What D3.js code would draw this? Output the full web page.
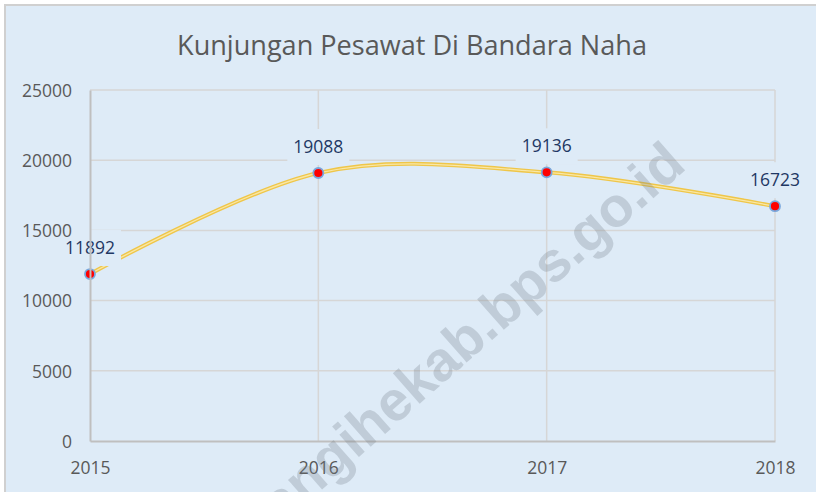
<!DOCTYPE html>
<html>
<head>
<meta charset="utf-8">
<script src="https://cdn.jsdelivr.net/npm/d3@7"></script>
<style>
  html, body { margin: 0; padding: 0; background: #ffffff; }
  svg { display: block; }
</style>
</head>
<body>
<svg id="chart"></svg>
<script>
// chart data
var years = ["2015", "2016", "2017", "2018"];
var flights = [11892, 19088, 19136, 16723];
var yTicks = [0, 5000, 10000, 15000, 20000, 25000];
var title = "Kunjungan Pesawat Di Bandara Naha";
var watermark = "sangihekab.bps.go.id";

var width = 816,
    height = 492,
    bg = "#deebf7",
    font = "'Open Sans', 'Noto Sans', sans-serif";

var svg = d3.select("#chart")
    .attr("width", width)
    .attr("height", height);

// chart area with grey frame on top and left
svg.append("rect")
    .attr("x", 5).attr("y", 5)
    .attr("width", width).attr("height", height)
    .attr("fill", bg)
    .attr("stroke", "#d0d0d0")
    .attr("stroke-width", 2);

var x = d3.scalePoint()
    .domain(years)
    .range([90, 775]);

var y = d3.scaleLinear()
    .domain([0, 25000])
    .range([441, 90]);

// title, scaled to the width it has in the picture
var t = svg.append("text")
    .attr("x", 412)
    .attr("y", 55)
    .attr("text-anchor", "middle")
    .attr("font-family", font)
    .attr("font-size", 26)
    .attr("fill", "#595959")
    .text(title);
var tw = t.node().getComputedTextLength();
t.attr("font-size", 26 * 470 / tw);

// gridlines
svg.append("g")
    .selectAll("line")
    .data(yTicks.slice(1))
    .enter().append("line")
    .attr("x1", x.range()[0]).attr("x2", x.range()[1])
    .attr("y1", function(d) { return y(d); })
    .attr("y2", function(d) { return y(d); })
    .attr("stroke", "#d6d6d6")
    .attr("stroke-width", 1.5);

svg.append("g")
    .selectAll("line")
    .data(years.slice(1))
    .enter().append("line")
    .attr("x1", function(d) { return x(d); })
    .attr("x2", function(d) { return x(d); })
    .attr("y1", y(25000)).attr("y2", y(0))
    .attr("stroke", "#d6d6d6")
    .attr("stroke-width", 1.5);

// axis lines
var yAxis = svg.append("g")
    .attr("transform", "translate(" + x.range()[0] + ",0)")
    .call(d3.axisLeft(y).tickValues(yTicks).tickFormat(d3.format("d")).tickSize(0).tickPadding(18));

var xAxis = svg.append("g")
    .attr("transform", "translate(0," + y(0) + ")")
    .call(d3.axisBottom(x).tickSize(0).tickPadding(21));

// smoothed line
var line = d3.line()
    .x(function(d, i) { return x(years[i]); })
    .y(function(d) { return y(d); })
    .curve(d3.curveCatmullRom.alpha(0));

svg.append("path")
    .datum(flights)
    .attr("d", line)
    .attr("fill", "none")
    .attr("stroke", "#efc649")
    .attr("stroke-width", 4);

svg.append("path")
    .datum(flights)
    .attr("d", line)
    .attr("fill", "none")
    .attr("stroke", "#f9e7a6")
    .attr("stroke-width", 1.3);

// markers
svg.append("g")
    .selectAll("circle")
    .data(flights)
    .enter().append("circle")
    .attr("cx", function(d, i) { return x(years[i]); })
    .attr("cy", function(d) { return y(d); })
    .attr("r", 5)
    .attr("fill", "#ff0000")
    .attr("stroke", "#79a7dc")
    .attr("stroke-width", 1.8);

// data labels with a background box
var labels = svg.append("g")
    .selectAll("g")
    .data(flights)
    .enter().append("g");

labels.append("rect");
labels.append("text")
    .attr("x", function(d, i) { return x(years[i]); })
    .attr("y", function(d) { return y(d) - 20; })
    .attr("text-anchor", "middle")
    .attr("font-family", font)
    .attr("font-size", 17.5)
    .attr("fill", "#1f3864")
    .text(function(d) { return d; });

labels.each(function() {
    var g = d3.select(this),
        b = g.select("text").node().getBBox();
    g.select("rect")
        .attr("x", b.x - 6)
        .attr("y", b.y - 5)
        .attr("width", b.width + 12)
        .attr("height", b.height + 12)
        .attr("fill", bg);
});

// axes drawn last so the label boxes do not hide them
[xAxis, yAxis].forEach(function(a) {
    a.raise();
    a.select(".domain").attr("stroke", "#bfbfbf").attr("stroke-width", 2);
    a.selectAll("text")
        .attr("font-family", font)
        .attr("font-size", 17.5)
        .attr("fill", "#595959");
});
yAxis.selectAll("text").attr("dy", "0.36em");
labels.filter(function(d, i) { return i === 0; }).raise();
yAxis.select(".domain").lower();

// watermark
svg.append("text")
    .attr("transform", "translate(688,168) rotate(-41.3)")
    .attr("text-anchor", "end")
    .attr("font-family", "'Liberation Sans', Arial, sans-serif")
    .attr("font-weight", "bold")
    .attr("font-size", 56)
    .attr("fill", "#6f7a86")
    .attr("fill-opacity", 0.27)
    .text(watermark);
</script>
</body>
</html>
